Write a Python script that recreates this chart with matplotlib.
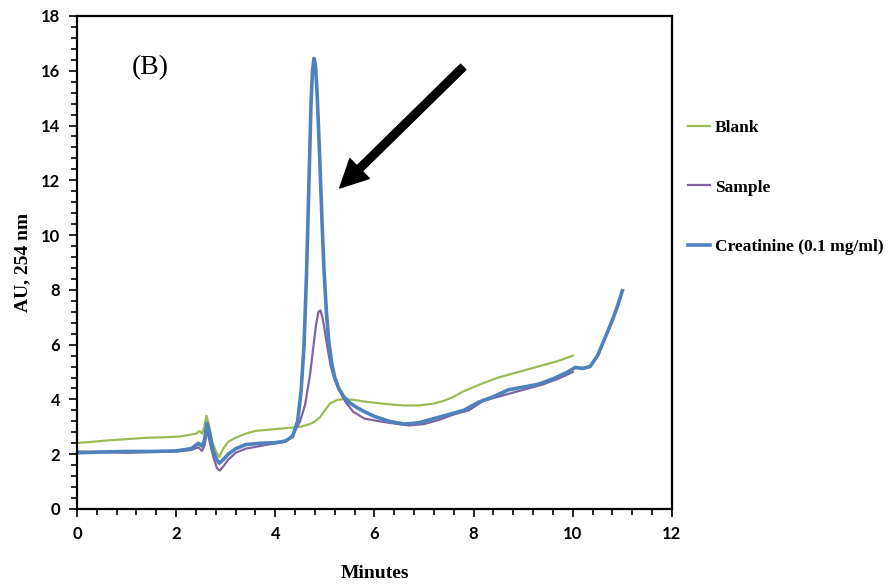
import numpy as np
import matplotlib.pyplot as plt
from matplotlib.ticker import MultipleLocator

# Chromatogram traces (minutes, AU)
blank_x = [0, 0.3, 0.6, 1.0, 1.4, 1.8, 2.1, 2.3, 2.4, 2.47, 2.52, 2.57, 2.61, 2.66, 2.72, 2.8, 2.87,
           2.95, 3.05, 3.2, 3.4, 3.6, 3.9, 4.2, 4.5, 4.7, 4.8, 4.9, 5.0, 5.1, 5.25, 5.4, 5.6, 5.8,
           6.0, 6.3, 6.6, 6.9, 7.2, 7.4, 7.6, 7.8, 8.0, 8.2, 8.5, 8.8, 9.1, 9.4, 9.7, 10.0]
blank_y = [2.41, 2.45, 2.5, 2.55, 2.6, 2.62, 2.65, 2.72, 2.75, 2.85, 2.75, 3.0, 3.4, 3.1, 2.5, 2.1, 1.9,
           2.2, 2.45, 2.6, 2.75, 2.85, 2.9, 2.95, 3.0, 3.1, 3.2, 3.35, 3.6, 3.85, 3.98, 4.02, 3.98, 3.92,
           3.88, 3.82, 3.78, 3.78, 3.85, 3.95, 4.1, 4.3, 4.45, 4.6, 4.8, 4.95, 5.1, 5.25, 5.4, 5.6]

sample_x = [0, 0.5, 1.0, 1.5, 2.0, 2.3, 2.45, 2.52, 2.57, 2.62, 2.67, 2.75, 2.82, 2.88, 2.95, 3.05,
            3.2, 3.4, 3.7, 4.0, 4.2, 4.35, 4.5, 4.6, 4.7, 4.76, 4.82, 4.87, 4.91, 4.95, 5.0, 5.06,
            5.12, 5.2, 5.3, 5.42, 5.57, 5.8, 6.1, 6.4, 6.7, 7.0, 7.3, 7.6, 7.9, 8.2, 8.5, 8.8, 9.1,
            9.4, 9.7, 10.0]
sample_y = [2.1, 2.08, 2.05, 2.08, 2.1, 2.15, 2.25, 2.12, 2.3, 2.88, 2.5, 1.9, 1.5, 1.4, 1.55, 1.8,
            2.05, 2.2, 2.3, 2.4, 2.45, 2.7, 3.2, 3.8, 4.9, 5.8, 6.7, 7.2, 7.25, 7.0, 6.5, 5.8,
            5.2, 4.7, 4.3, 3.9, 3.55, 3.3, 3.2, 3.12, 3.05, 3.1, 3.25, 3.45, 3.6, 3.95, 4.1, 4.25, 4.4,
            4.55, 4.75, 5.0]

creat_x = [0, 0.5, 1.0, 1.5, 2.0, 2.3, 2.45, 2.52, 2.57, 2.62, 2.67, 2.75, 2.82, 2.87, 2.95, 3.05,
           3.2, 3.4, 3.7, 4.0, 4.2, 4.35, 4.45, 4.52, 4.58, 4.63, 4.68, 4.72, 4.75, 4.78, 4.81, 4.84,
           4.87, 4.9, 4.94, 4.98, 5.03, 5.08, 5.14, 5.2, 5.28, 5.38, 5.5, 5.65, 5.8, 6.0, 6.3, 6.6,
           6.9, 7.2, 7.5, 7.8, 8.1, 8.4, 8.7, 9.0, 9.3, 9.6, 9.9, 10.05, 10.2, 10.35, 10.5, 10.65,
           10.8, 10.9, 11.0]
creat_y = [2.05, 2.08, 2.1, 2.1, 2.12, 2.2, 2.4, 2.3, 2.5, 3.13, 2.8, 2.1, 1.8, 1.67, 1.8, 2.0,
           2.2, 2.35, 2.4, 2.42, 2.48, 2.65, 3.2, 4.3, 6.0, 8.6, 12.0, 14.8, 16.0, 16.45, 16.2, 15.3,
           14.0, 12.6, 10.6, 8.8, 7.2, 6.1, 5.3, 4.8, 4.4, 4.1, 3.88, 3.7, 3.55, 3.38, 3.2, 3.1,
           3.15, 3.3, 3.45, 3.6, 3.9, 4.1, 4.35, 4.45, 4.55, 4.75, 5.0, 5.17, 5.13, 5.2, 5.6, 6.25,
           6.9, 7.4, 7.97]

labels = ["Blank", "Sample", "Creatinine (0.1 mg/ml)"]
colors = ["#9BBB59", "#8064A2", "#4F81BD"]

fig = plt.figure(figsize=(8.9, 5.88), dpi=100)
ax = fig.add_axes([0.0865, 0.1344, 0.6685, 0.8384])

ax.plot(blank_x, blank_y, color=colors[0], lw=1.6, label=labels[0])
ax.plot(sample_x, sample_y, color=colors[1], lw=1.6, label=labels[1])
ax.plot(creat_x, creat_y, color=colors[2], lw=2.6, label=labels[2])

ax.set_xlim(0, 12)
ax.set_ylim(0, 18)
ax.xaxis.set_major_locator(MultipleLocator(2))
ax.xaxis.set_minor_locator(MultipleLocator(0.4))
ax.yaxis.set_major_locator(MultipleLocator(2))
ax.yaxis.set_minor_locator(MultipleLocator(0.4))
ax.tick_params(which='both', direction='out', width=1.2, color='black')
ax.tick_params(which='major', length=6, pad=6)
ax.tick_params(which='minor', length=4)
for s in ax.spines.values():
    s.set_linewidth(1.6)

for lab in ax.get_xticklabels() + ax.get_yticklabels():
    lab.set_fontfamily('Lato')
    lab.set_fontweight('bold')
    lab.set_fontsize(12)

ax.set_xlabel("Minutes", family='Liberation Serif', fontweight='bold', fontsize=14, labelpad=17)
ax.set_ylabel("AU, 254 nm", family='Liberation Serif', fontweight='bold', fontsize=14, labelpad=7)

ax.text(1.1, 16.1, "(B)", family='Liberation Serif', fontsize=20, ha='left', va='center')

# arrow pointing at the creatinine peak
ax.annotate("", xy=(5.3, 11.72), xytext=(7.79, 16.14),
            arrowprops=dict(facecolor='black', edgecolor='black', width=5.5,
                            headwidth=20, headlength=20, shrink=0))

leg = fig.legend(loc='upper left', bbox_to_anchor=(0.765, 0.808), frameon=False,
                 prop={'family': 'Liberation Serif', 'weight': 'bold', 'size': 12.5},
                 labelspacing=2.5, handlelength=1.3, handletextpad=0.25, borderaxespad=0)

fig.savefig("out.png", dpi=100)
